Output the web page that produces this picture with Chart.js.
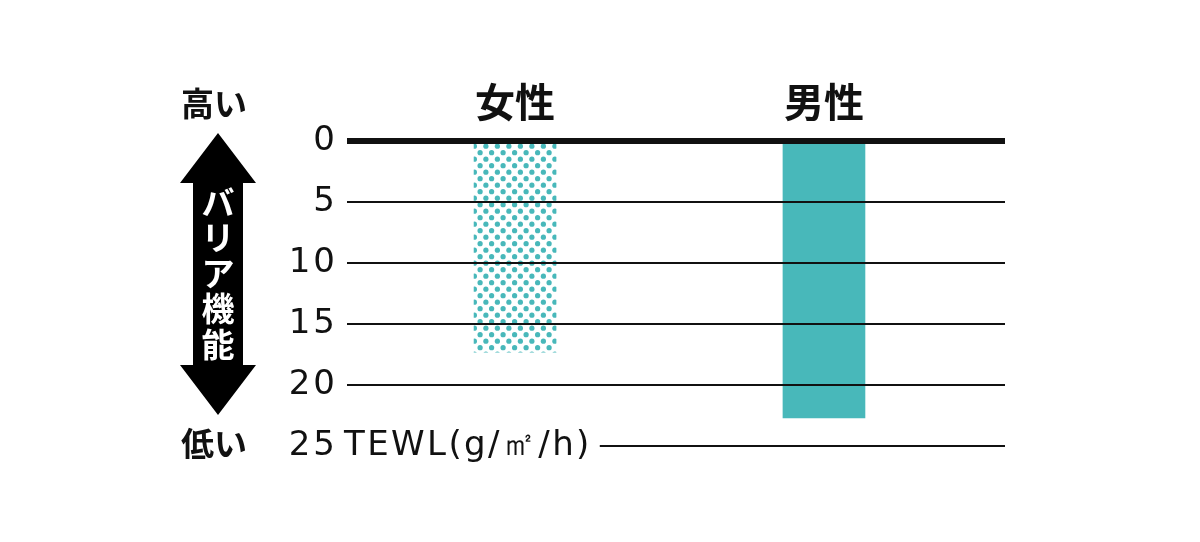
<!DOCTYPE html>
<html>
<head>
<meta charset="utf-8">
<script src="https://cdn.jsdelivr.net/npm/chart.js@4.4.1/dist/chart.umd.min.js"></script>
<style>
  html, body { margin: 0; padding: 0; background: #fff; }
  #wrap { width: 1200px; height: 542px; }
</style>
</head>
<body>
<div id="wrap"><canvas id="tewlChart"></canvas></div>
<script>
// data
const categories = ['女性', '男性'];
const tewlValues = [17.3, 22.7];
const yTicks = [0, 5, 10, 15, 20, 25];
const unitText = 'TEWL(g/㎡/h)';
const highLowLabels = ['高い', '低い'];
const arrowText = 'バリア機能';

const TEAL = '#48b8ba';
const INK = '#111';
const NUM_FONT = '"DejaVu Sans", sans-serif';
const JP_FONT = '"Noto Sans CJK JP", "Noto Sans", sans-serif';

// dotted fill for the first bar (staggered dots)
function makeDots() {
  const c = document.createElement('canvas');
  c.width = 23;
  c.height = 13;
  const g = c.getContext('2d');
  g.fillStyle = TEAL;
  [[2.9, 3.2], [14.4, 3.2], [8.6, 9.7], [20.1, 9.7]].forEach(([x, y]) => {
    g.beginPath();
    g.arc(x, y, 2.6, 0, Math.PI * 2);
    g.fill();
  });
  return g.createPattern(c, 'repeat');
}

// left side decoration: high / low labels, double arrow, unit text and last grid line
const sideDecor = {
  id: 'sideDecor',
  beforeDraw(chart) {
    chart.ctx.letterSpacing = '0px';
  },
  afterDatasetsDraw(chart) {
    // y tick labels are drawn after this (z = 1), spaced like the original
    chart.ctx.letterSpacing = '3px';
  },
  afterDraw(chart) {
    const ctx = chart.ctx;
    const y = chart.scales.y;
    const area = chart.chartArea;
    ctx.save();

    // unit text after the "25" tick and the short grid line to its right
    const y25 = y.getPixelForValue(25);
    ctx.letterSpacing = '2.4px';
    ctx.font = '34px ' + NUM_FONT;
    ctx.fillStyle = INK;
    ctx.textAlign = 'left';
    ctx.textBaseline = 'middle';
    const ux = area.left - 3;
    ctx.fillText(unitText, ux, y25);
    const endX = ux + ctx.measureText(unitText).width;
    ctx.letterSpacing = '0px';
    ctx.strokeStyle = INK;
    ctx.lineWidth = 2;
    ctx.beginPath();
    ctx.moveTo(endX + 8, Math.round(y25));
    ctx.lineTo(area.right, Math.round(y25));
    ctx.stroke();

    // 高い / 低い
    ctx.font = 'bold 33px ' + JP_FONT;
    ctx.fillStyle = INK;
    ctx.fillText(highLowLabels[0], 181, 103);
    ctx.fillText(highLowLabels[1], 181, y25 - 3);

    // double headed arrow
    const cx = 218;
    const top = y.getPixelForValue(0) - 8;
    const bottom = 415;
    const headH = 50, headW = 38, shaftW = 25;
    ctx.fillStyle = '#000';
    ctx.beginPath();
    ctx.moveTo(cx, top);
    ctx.lineTo(cx + headW, top + headH);
    ctx.lineTo(cx + shaftW, top + headH);
    ctx.lineTo(cx + shaftW, bottom - headH);
    ctx.lineTo(cx + headW, bottom - headH);
    ctx.lineTo(cx, bottom);
    ctx.lineTo(cx - headW, bottom - headH);
    ctx.lineTo(cx - shaftW, bottom - headH);
    ctx.lineTo(cx - shaftW, top + headH);
    ctx.lineTo(cx - headW, top + headH);
    ctx.closePath();
    ctx.fill();

    // vertical text inside the arrow
    ctx.font = 'bold 33px ' + JP_FONT;
    ctx.fillStyle = '#fff';
    ctx.textAlign = 'center';
    Array.from(arrowText).forEach((ch, i) => {
      ctx.fillText(ch, cx, 202 + i * 35.5);
    });

    ctx.restore();
  }
};

const ctx = document.getElementById('tewlChart');

new Chart(ctx, {
  type: 'bar',
  data: {
    datasets: [{
      label: 'TEWL',
      data: tewlValues.map((v, i) => ({ x: i + 1, y: v })),
      backgroundColor: [makeDots(), TEAL],
      borderWidth: 0,
      barThickness: 82,
    }],
  },
  options: {
    responsive: true,
    maintainAspectRatio: false,
    animation: false,
    devicePixelRatio: 1,
    layout: {
      padding: { top: 0, left: 0, right: 195, bottom: 96 },
    },
    plugins: {
      legend: { display: false },
      tooltip: { enabled: false },
    },
    scales: {
      x: {
        type: 'linear',
        position: 'top',
        offset: false,
        min: 0.456,
        max: 2.586,
        grid: { display: false, drawTicks: false, offset: false },
        border: { display: false },
        afterBuildTicks: (scale) => {
          scale.ticks = categories.map((c, i) => ({ value: i + 1 }));
        },
        afterFit: (scale) => {
          scale.height = 141;
        },
        ticks: {
          padding: 19,
          color: INK,
          font: { family: JP_FONT, size: 40, weight: 'bold', lineHeight: 1 },
          callback: (v) => categories[v - 1],
        },
      },
      y: {
        reverse: true,
        min: 0,
        max: 25,
        border: { display: false },
        afterBuildTicks: (scale) => {
          scale.ticks = yTicks.map((v) => ({ value: v }));
        },
        afterFit: (scale) => {
          scale.width = 347;
        },
        grid: {
          z: 1,
          drawTicks: false,
          color: (c) => (c.tick && c.tick.value === 25 ? 'rgba(0,0,0,0)' : INK),
          lineWidth: (c) => (c.tick && c.tick.value === 0 ? 6 : 2),
        },
        ticks: {
          z: 1,
          padding: 9,
          color: INK,
          font: { family: NUM_FONT, size: 34 },
        },
      },
    },
  },
  plugins: [sideDecor],
});
</script>
</body>
</html>
